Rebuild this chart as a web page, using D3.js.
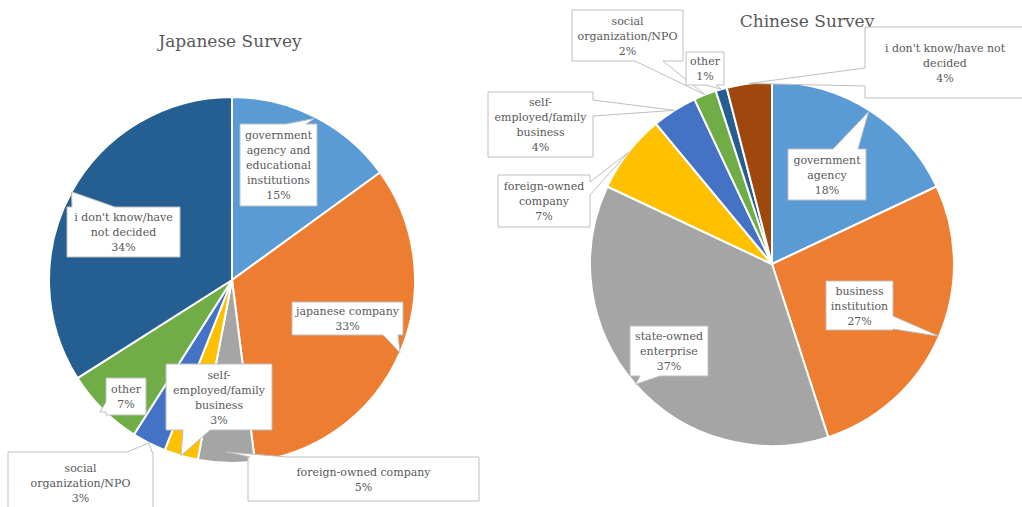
<!DOCTYPE html>
<html>
<head>
<meta charset="utf-8">
<script src="https://cdn.jsdelivr.net/npm/d3@7"></script>
<style>
  html, body { margin: 0; padding: 0; background: #fff; }
  svg { display: block; }
  text { font-family: "DejaVu Serif", serif; fill: #595959; }
</style>
</head>
<body>
<svg id="chart" width="1022" height="507"></svg>
<script>
// ---- Data ----------------------------------------------------------------
// Category names are stored as the lines they are printed on.
const jpCategories = [
  ["government", "agency and", "educational", "institutions"],
  ["japanese company"],
  ["foreign-owned company"],
  ["self-", "employed/family", "business"],
  ["social", "organization/NPO"],
  ["other"],
  ["i don't know/have", "not decided"]
];
const jpValues = [15, 33, 5, 3, 3, 7, 34];

const cnCategories = [
  ["government", "agency"],
  ["business", "institution"],
  ["state-owned", "enterprise"],
  ["foreign-owned", "company"],
  ["self-", "employed/family", "business"],
  ["social", "organization/NPO"],
  ["other"],
  ["i don't know/have not", "decided"]
];
const cnValues = [18, 27, 37, 7, 4, 2, 1, 4];

const titles = ["Japanese Survey", "Chinese Survey"];

// Office-style series colours, in slice order
const palette = ["#5B9BD5", "#ED7D31", "#A5A5A5", "#FFC000",
                 "#4472C4", "#70AD47", "#255E91", "#9E480E"];

// ---- Layout --------------------------------------------------------------
const jpPie = { cx: 232, cy: 280, r: 183, titleX: 230, titleY: 47 };
const cnPie = { cx: 772, cy: 264, r: 182, titleX: 807, titleY: 27 };

// Callout boxes: box rect, edge the pointer leaves from, pointer base span,
// and how far out along the slice's mid-angle the pointer tip sits.
const jpCallouts = [
  { x: 240, y: 124, w: 77,  h: 82, edge: "top",    a0: 286, a1: 306, f: 0.99 },
  { x: 292, y: 302, w: 111, h: 33, edge: "bottom", a0: 383, a1: 398, f: 1.0 },
  { x: 248, y: 457, w: 231, h: 44, edge: "top",    a0: 250, a1: 287, f: 0.94 },
  { x: 166, y: 364, w: 106, h: 66, edge: "bottom", a0: 183, a1: 210, f: 1.0 },
  { x: 8,   y: 452, w: 145, h: 62, edge: "top",    a0: 127, a1: 152, f: 1.0 },
  { x: 106, y: 378, w: 40,  h: 37, edge: "left",   a0: 402, a1: 412, f: 1.02 },
  { x: 67,  y: 207, w: 113, h: 50, edge: "top",    a0: 72,  a1: 115, f: 1.0 }
];
const cnCallouts = [
  { x: 788, y: 149, w: 78,  h: 51, edge: "top",    a0: 833, a1: 858, f: 0.99 },
  { x: 826, y: 281, w: 67,  h: 49, edge: "right",  a0: 316, a1: 329, f: 1.0 },
  { x: 630, y: 326, w: 78,  h: 50, edge: "bottom", a0: 640, a1: 660, f: 1.0 },
  { x: 498, y: 175, w: 92,  h: 52, edge: "right",  a0: 182, a1: 195, f: 1.0 },
  { x: 488, y: 92,  w: 105, h: 65, edge: "right",  a0: 100, a1: 116, f: 1.0 },
  { x: 572, y: 10,  w: 111, h: 51, edge: "bottom", a0: 635, a1: 663, f: 1.0 },
  { x: 686, y: 52,  w: 38,  h: 33, edge: "bottom", a0: 706, a1: 716, f: 1.0 },
  { x: 865, y: 27,  w: 160, h: 71, edge: "left",   a0: 68,  a1: 86,  f: 1.0 }
];

const LINE_H = 15;

const svg = d3.select("#chart");
svg.append("rect").attr("width", 1022).attr("height", 507).attr("fill", "#fff");

// Box outline with a wedge pointer inserted on one edge, traced clockwise.
function calloutPath(c, tip) {
  const x0 = c.x, y0 = c.y, x1 = c.x + c.w, y1 = c.y + c.h;
  const p = [[x0, y0]];
  if (c.edge === "top") p.push([c.a0, y0], tip, [c.a1, y0]);
  p.push([x1, y0]);
  if (c.edge === "right") p.push([x1, c.a0], tip, [x1, c.a1]);
  p.push([x1, y1]);
  if (c.edge === "bottom") p.push([c.a1, y1], tip, [c.a0, y1]);
  p.push([x0, y1]);
  if (c.edge === "left") p.push([x0, c.a1], tip, [x0, c.a0]);
  return "M" + p.map(d => d.join(",")).join("L") + "Z";
}

function drawPie(geom, categories, values, callouts, title) {
  const pie = d3.pie().sort(null).value(d => d).startAngle(0).endAngle(2 * Math.PI);
  const arcs = pie(values);
  const arc = d3.arc().innerRadius(0).outerRadius(geom.r);
  const color = d3.scaleOrdinal().domain(d3.range(values.length)).range(palette);

  const g = svg.append("g");

  g.append("text")
    .attr("x", geom.titleX).attr("y", geom.titleY)
    .attr("text-anchor", "middle")
    .style("font-size", "17px")
    .text(title);

  const pg = g.append("g").attr("transform", `translate(${geom.cx},${geom.cy})`);
  pg.selectAll("path.slice")
    .data(arcs)
    .join("path")
    .attr("class", "slice")
    .attr("d", arc)
    .attr("fill", (d, i) => color(i))
    .attr("stroke", "#fff")
    .attr("stroke-width", 2)
    .attr("stroke-linejoin", "round");

  // Data-label callouts, pointing at each slice's mid-angle
  const lg = g.append("g");
  arcs.forEach((d, i) => {
    const c = callouts[i];
    const mid = (d.startAngle + d.endAngle) / 2;
    const pr = d3.pointRadial(mid, geom.r * c.f);
    const tip = [geom.cx + pr[0], geom.cy + pr[1]];

    lg.append("path")
      .attr("d", calloutPath(c, tip))
      .attr("fill", "#fff")
      .attr("stroke", "#BFBFBF")
      .attr("stroke-width", 1);

    const lines = categories[i].concat([d3.format("d")(d.data) + "%"]);
    const mx = c.x + c.w / 2, my = c.y + c.h / 2;
    const t = lg.append("text")
      .attr("text-anchor", "middle")
      .style("font-size", "11px");
    lines.forEach((s, k) => {
      t.append("tspan")
        .attr("x", mx)
        .attr("y", my + (k - (lines.length - 1) / 2) * LINE_H + 4)
        .text(s);
    });
  });
}

drawPie(jpPie, jpCategories, jpValues, jpCallouts, titles[0]);
drawPie(cnPie, cnCategories, cnValues, cnCallouts, titles[1]);
</script>
</body>
</html>
